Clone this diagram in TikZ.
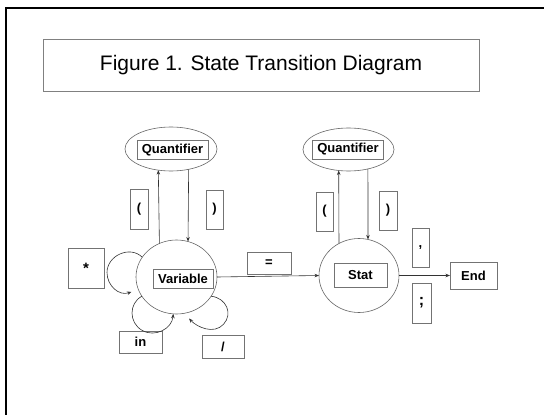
\documentclass[tikz,border=0pt]{standalone}
\usepackage{fontspec}
\setmainfont{Liberation Sans}
\usetikzlibrary{shapes.geometric,arrows.meta}
\begin{document}
\begin{tikzpicture}[x=1pt,y=-1pt,
  lbl/.style={draw=black!55,line width=0.8pt,rectangle,inner sep=0pt,outer sep=0pt,
    font=\bfseries\fontsize{13}{15}\selectfont},
  ell/.style={draw=black!60,line width=0.6pt,ellipse,inner sep=0pt,outer sep=0pt},
  conn/.style={draw=black!80,line width=0.6pt},
  arr/.style={conn,-{Stealth[length=4.5pt,width=3.5pt]}}]
\useasboundingbox (0,0) rectangle (544,415);
\fill[white] (0,0) rectangle (544,415);
% outer frame
\draw[line width=2pt,black] (6,420) -- (6,8) -- (550,8);
% title
\node[draw=black!50,line width=0.7pt,minimum width=436pt,minimum height=52pt,inner sep=0pt,
  font=\fontsize{21}{24}\selectfont] (title) at (261,65) {Figure 1. State Transition Diagram};
% ellipses
\node[ell,minimum width=92pt,minimum height=44pt] (QL) at (171,149) {};
\node[ell,minimum width=91pt,minimum height=43pt] (QR) at (348.5,149.5) {};
\node[ell,minimum width=81pt,minimum height=74pt] (V) at (176.5,277) {};
\node[ell,minimum width=80pt,minimum height=74pt] (S) at (359,275.5) {};
% boxes
\node[lbl,minimum width=71pt,minimum height=19pt] (QLbox) at (172.5,150) {Quantifier};
\node[lbl,minimum width=71pt,minimum height=19pt] (QRbox) at (348,149.5) {Quantifier};
\node[lbl,minimum width=60pt,minimum height=19pt] (Vbox) at (183,278.5) {Variable};
\node[lbl,minimum width=53pt,minimum height=24pt] (Sbox) at (360.5,275) {Stat};
\node[lbl,minimum width=47pt,minimum height=27pt] (End) at (473.5,275.5) {End};
\node[lbl,minimum width=18pt,minimum height=40pt] (lp1) at (139,209) {(};
\node[lbl,minimum width=17pt,minimum height=39pt] (rp1) at (214.5,209.5) {)};
\node[lbl,minimum width=17pt,minimum height=39pt] (lp2) at (324.5,211.5) {(};
\node[lbl,minimum width=18pt,minimum height=39pt] (rp2) at (388,210.5) {)};
\node[lbl,minimum width=36pt,minimum height=40pt,font=\bfseries\fontsize{15}{17}\selectfont] (star) at (86,268) {*};
\node[lbl,minimum width=44pt,minimum height=22pt] (eq) at (269,263) {=};
\node[lbl,minimum width=43pt,minimum height=22pt] (in) at (140.5,342) {in};
\node[lbl,minimum width=42pt,minimum height=23pt] (slash) at (223,346.5) {/};
\node[lbl,minimum width=17pt,minimum height=39pt] (comma) at (420.5,247.5) {,};
\node[lbl,minimum width=19pt,minimum height=40pt,font=\bfseries\fontsize{16}{18}\selectfont] (semi) at (421.5,303) {;};
% vertical connectors
\draw[arr] (V.117.6) -- (QL.239.4);
\draw[arr] (QL.311.1) -- (V.72.1);
\draw[arr] (S.122) -- (QR.245.1);
\draw[arr] (QR.315.7) -- (S.76);
% horizontal connectors
\draw[arr] (V.east) -- (S.west);
\draw[arr] (S.east) -- (End.west);
% self loops
\coordinate (starend) at (131.5,291.8);
\draw[arr] (V.150) .. controls (130,245) and (107,255.6) .. (107,272.5)
  .. controls (107,285.7) and (119.1,296.3) .. (starend);
\draw[arr] (V.209) .. controls (128.7,303.4) and (128.7,322.6) .. (142,330.3)
  .. controls (155.3,338) and (172,328.4) .. (V.265);
\coordinate (slashend) at (189,318.5);
\draw[arr] (V.331) .. controls (226.7,298.1) and (233,313.9) .. (223.6,324.2)
  .. controls (213.8,334.9) and (197,327) .. (slashend);
\end{tikzpicture}
\end{document}
